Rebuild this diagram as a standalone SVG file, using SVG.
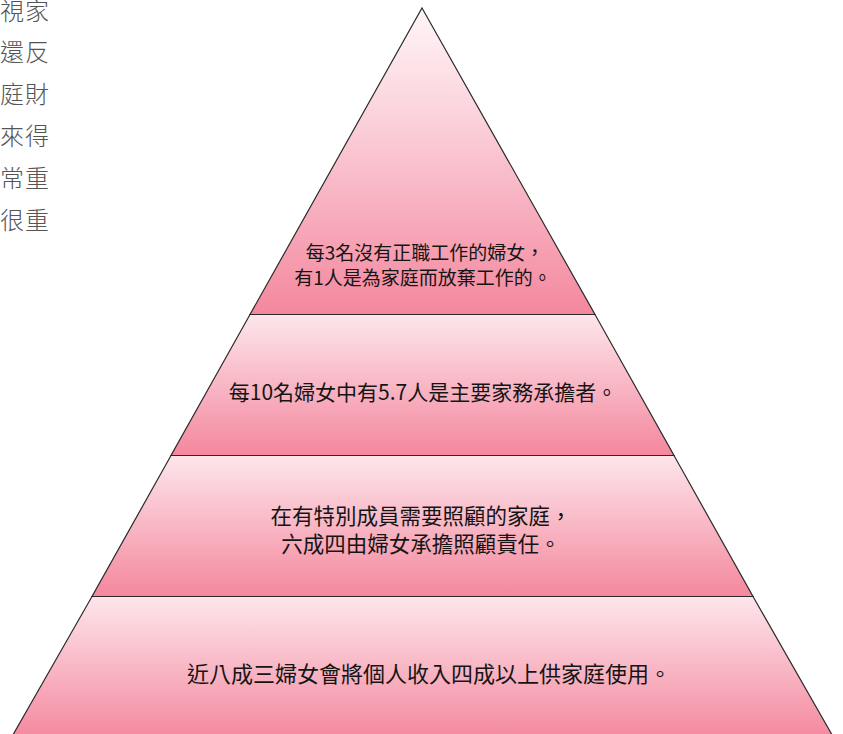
<svg xmlns="http://www.w3.org/2000/svg" width="843" height="734" viewBox="0 0 843 734">
<defs>
<linearGradient id="g" x1="0" y1="0" x2="0" y2="1">
<stop offset="0" stop-color="#fde6eb"/>
<stop offset="1" stop-color="#f4879e"/>
</linearGradient>
<linearGradient id="gt" x1="0" y1="0" x2="0" y2="1">
<stop offset="0" stop-color="#fff5f7"/>
<stop offset="0.35" stop-color="#fbd3dc"/>
<stop offset="1" stop-color="#f4879e"/>
</linearGradient>
<style>
.lay{stroke:#2a2a2a;stroke-width:1.2;stroke-linejoin:miter}
.t{font-family:"Noto Sans CJK TC","Noto Sans CJK SC",sans-serif;font-size:21.5px;fill:#151515;text-anchor:middle}
.ts{font-size:19px}
.side{font-family:"Noto Sans CJK TC","Noto Sans CJK SC",sans-serif;font-size:24px;font-weight:300;fill:#555;text-anchor:end;letter-spacing:1px}
</style>
</defs>
<g id="sidetext">
<text class="side" x="50" y="20">視家</text>
<text class="side" x="50" y="61">還反</text>
<text class="side" x="50" y="103">庭財</text>
<text class="side" x="50" y="145">來得</text>
<text class="side" x="50" y="187">常重</text>
<text class="side" x="50" y="229">很重</text>
</g>
<g id="layer4">
<polygon class="lay" points="92,596.5 753,596.5 835,740 10,740" fill="url(#g)"/>
<text class="t" x="429" y="682" style="font-size:22px">近八成三婦女會將個人收入四成以上供家庭使用。</text>
</g>
<g id="layer3">
<polygon class="lay" points="171,455.5 674,455.5 753,596.5 92,596.5" fill="url(#g)"/>
<text class="t" x="421" y="524">在有特別成員需要照顧的家庭，</text>
<text class="t" x="421" y="552">六成四由婦女承擔照顧責任。</text>
</g>
<g id="layer2">
<polygon class="lay" points="250,314.5 595,314.5 674,455.5 171,455.5" fill="url(#g)"/>
<text class="t" x="423" y="400" style="font-size:21px">每10名婦女中有5.7人是主要家務承擔者。</text>
</g>
<g id="layer1">
<polygon class="lay" points="422,8 595,314.5 250,314.5" fill="url(#gt)"/>
<text class="t ts" x="425" y="260">每3名沒有正職工作的婦女，</text>
<text class="t ts" x="423" y="285">有1人是為家庭而放棄工作的。</text>
</g>
<g id="connectors"></g>
</svg>
